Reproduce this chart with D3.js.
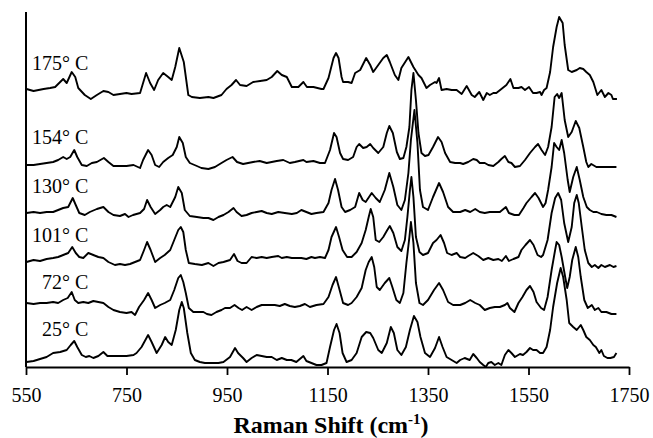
<!DOCTYPE html>
<html>
<head>
<meta charset="utf-8">
<script src="https://cdn.jsdelivr.net/npm/d3@7"></script>
<style>
  html, body { margin: 0; padding: 0; background: #fff; }
  svg { display: block; }
  text { font-family: "Liberation Serif", "Times New Roman", Tinos, "DejaVu Serif", serif; }
</style>
</head>
<body>
<svg id="viz"></svg>
<script>
const width = 653, height = 438;
const svg = d3.select("#viz").attr("width", width).attr("height", height);
const serif = "Liberation Serif, Times New Roman, DejaVu Serif, serif";

// x tick labels
const xTicks = [550, 750, 950, 1150, 1350, 1550, 1750];

// spectrum labels, top to bottom
const labels = ["175° C", "154° C", "130° C", "101° C", "72° C", "25° C"];
// where each label sits (intensity units, same scale as the traces)
const labelLevel = [297, 223, 174, 125, 78, 31];

// spectra: [Raman shift (cm-1), stacked intensity (a.u.)]
const s175 = [[551,278],[565,276],[585,278],[598,279],[608,280],[618,285],[624,288],[631,284],[641,295],[648,290],[654,279],[667,272],[679,268],[691,272],[704,276],[714,275],[724,272],[737,273],[750,274],[760,273],[777,274],[789,294],[797,284],[805,277],[813,287],[823,294],[833,290],[840,287],[847,300],[855,319],[864,305],[873,272],[880,270],[896,269],[913,270],[923,269],[939,272],[949,278],[959,282],[968,287],[976,282],[989,281],[1002,285],[1016,286],[1029,287],[1039,290],[1050,296],[1059,292],[1069,290],[1079,280],[1092,280],[1102,285],[1109,280],[1122,280],[1138,278],[1142,278],[1152,289],[1162,309],[1167,314],[1172,309],[1178,290],[1181,285],[1191,285],[1198,284],[1205,294],[1215,297],[1227,309],[1235,302],[1241,295],[1251,302],[1261,309],[1268,312],[1274,305],[1284,292],[1291,287],[1297,299],[1311,310],[1321,300],[1331,292],[1337,289],[1347,279],[1354,282],[1364,285],[1367,284],[1372,289],[1377,277],[1387,278],[1397,277],[1407,277],[1417,273],[1427,281],[1437,272],[1443,270],[1452,275],[1460,267],[1467,274],[1473,272],[1480,274],[1486,274],[1496,278],[1506,282],[1514,288],[1520,279],[1530,279],[1536,280],[1543,277],[1551,280],[1559,274],[1566,274],[1573,275],[1576,272],[1581,277],[1586,279],[1593,295],[1599,320],[1606,340],[1611,350],[1618,344],[1622,322],[1629,297],[1636,295],[1646,297],[1652,299],[1659,298],[1665,295],[1672,292],[1679,285],[1687,272],[1695,277],[1702,270],[1709,274],[1715,272],[1718,268],[1726,268]];

const s154 = [[551,202],[565,202],[578,203],[591,204],[604,205],[614,207],[624,210],[631,208],[638,210],[646,217],[652,210],[661,202],[671,201],[681,204],[691,205],[705,209],[714,205],[724,201],[737,201],[750,201],[764,202],[777,199],[783,207],[793,217],[800,212],[807,202],[815,200],[823,205],[833,209],[842,212],[850,220],[855,230],[862,224],[868,210],[876,204],[890,201],[899,199],[913,198],[926,200],[939,204],[949,207],[961,210],[970,205],[982,203],[992,204],[1002,205],[1015,206],[1029,204],[1039,205],[1049,206],[1062,207],[1075,204],[1085,205],[1102,207],[1108,205],[1122,206],[1135,204],[1145,204],[1155,217],[1163,234],[1168,230],[1175,214],[1181,208],[1191,207],[1201,210],[1208,220],[1213,223],[1221,219],[1228,220],[1235,223],[1241,219],[1251,214],[1261,220],[1268,234],[1273,241],[1280,234],[1288,215],[1294,208],[1301,209],[1307,220],[1313,240],[1317,277],[1321,294],[1326,267],[1331,234],[1337,214],[1344,211],[1351,212],[1360,220],[1370,230],[1377,225],[1384,214],[1394,205],[1404,204],[1414,204],[1420,203],[1430,205],[1440,208],[1447,207],[1453,204],[1463,204],[1470,202],[1480,201],[1490,205],[1496,208],[1503,211],[1510,205],[1516,204],[1523,200],[1533,201],[1543,207],[1553,214],[1563,220],[1569,223],[1576,217],[1583,212],[1589,220],[1596,240],[1602,270],[1607,273],[1611,269],[1616,274],[1622,247],[1629,230],[1636,235],[1644,246],[1651,239],[1659,220],[1665,205],[1669,200],[1675,203],[1685,200],[1695,200],[1705,200],[1715,200],[1725,200]];

const s130 = [[551,154],[565,155],[578,154],[591,155],[604,155],[614,157],[624,159],[634,160],[643,169],[649,162],[656,154],[667,152],[677,155],[691,158],[704,160],[714,155],[724,152],[737,151],[747,153],[754,150],[763,152],[777,154],[785,158],[791,167],[798,160],[807,153],[817,157],[823,160],[830,162],[837,160],[847,170],[853,180],[860,174],[866,157],[876,151],[890,150],[903,149],[913,149],[923,147],[933,150],[943,152],[953,155],[963,159],[969,155],[979,151],[989,152],[999,154],[1009,155],[1019,156],[1029,154],[1039,153],[1052,155],[1065,154],[1079,153],[1089,154],[1098,157],[1108,155],[1118,153],[1128,154],[1142,155],[1152,164],[1158,177],[1165,188],[1171,177],[1178,160],[1185,155],[1195,157],[1205,160],[1213,174],[1220,167],[1226,165],[1238,174],[1246,169],[1254,165],[1264,177],[1273,194],[1281,180],[1289,162],[1297,157],[1304,167],[1311,194],[1316,227],[1323,257],[1329,224],[1334,177],[1340,160],[1350,157],[1360,170],[1372,184],[1380,175],[1390,160],[1400,155],[1414,155],[1424,157],[1434,155],[1444,158],[1453,155],[1463,154],[1473,155],[1483,155],[1493,155],[1505,160],[1511,154],[1522,152],[1531,152],[1540,159],[1546,164],[1556,170],[1563,174],[1570,169],[1575,164],[1579,160],[1584,164],[1589,177],[1596,200],[1601,224],[1606,220],[1611,217],[1616,227],[1621,214],[1628,187],[1632,175],[1639,190],[1646,200],[1652,187],[1659,170],[1666,160],[1672,157],[1679,155],[1686,155],[1695,153],[1705,152],[1715,152],[1725,150]];

const s101 = [[551,105],[565,107],[578,106],[591,108],[604,109],[614,110],[624,112],[634,114],[642,120],[649,114],[656,110],[664,109],[674,114],[684,112],[694,110],[704,109],[714,105],[727,102],[737,103],[747,102],[757,103],[767,105],[777,107],[785,117],[791,125],[798,117],[807,105],[817,109],[826,112],[837,117],[845,127],[853,137],[858,140],[863,135],[868,117],[874,104],[886,103],[900,102],[913,104],[923,101],[933,104],[943,105],[956,107],[964,113],[971,106],[979,104],[989,104],[999,110],[1009,109],[1019,110],[1029,109],[1039,110],[1052,111],[1059,109],[1069,110],[1079,109],[1089,109],[1098,109],[1108,108],[1118,110],[1125,109],[1135,110],[1145,109],[1152,117],[1158,130],[1167,140],[1173,130],[1180,117],[1189,110],[1198,110],[1208,115],[1218,124],[1226,137],[1232,150],[1236,158],[1241,150],[1246,127],[1253,125],[1261,130],[1269,137],[1274,141],[1281,134],[1289,120],[1297,116],[1304,127],[1309,150],[1314,177],[1317,190],[1321,170],[1326,130],[1333,115],[1340,112],[1350,114],[1360,124],[1367,127],[1375,132],[1382,124],[1388,114],[1397,112],[1407,114],[1414,110],[1424,109],[1430,111],[1440,114],[1450,111],[1460,107],[1470,109],[1480,107],[1490,108],[1497,106],[1505,111],[1511,106],[1520,108],[1530,110],[1536,117],[1544,122],[1553,127],[1560,122],[1568,112],[1575,110],[1579,112],[1588,127],[1596,154],[1603,169],[1609,174],[1615,167],[1621,144],[1629,125],[1636,140],[1641,164],[1646,172],[1650,164],[1656,140],[1662,117],[1669,104],[1676,100],[1682,102],[1689,99],[1695,102],[1702,100],[1712,102],[1719,100],[1725,101]];

const s72 = [[551,64],[565,63],[578,64],[591,64],[604,65],[614,64],[624,67],[633,69],[641,75],[647,67],[654,64],[664,65],[674,64],[684,66],[694,65],[704,64],[714,60],[724,57],[737,55],[750,54],[760,55],[767,52],[775,60],[785,67],[793,74],[800,67],[807,59],[817,62],[826,64],[837,67],[845,77],[853,89],[858,92],[863,85],[868,74],[874,59],[883,55],[893,55],[903,55],[910,53],[919,52],[929,55],[939,57],[946,59],[956,59],[965,62],[973,59],[980,57],[989,60],[999,57],[1009,60],[1019,62],[1032,62],[1045,62],[1055,61],[1065,63],[1075,61],[1085,60],[1095,61],[1105,63],[1115,60],[1128,62],[1142,63],[1152,70],[1160,82],[1167,90],[1173,79],[1181,64],[1191,62],[1198,64],[1208,70],[1218,79],[1226,97],[1232,105],[1238,110],[1243,100],[1248,80],[1254,77],[1264,84],[1273,89],[1279,80],[1287,67],[1294,64],[1301,74],[1307,104],[1313,130],[1316,145],[1321,124],[1326,84],[1333,64],[1340,62],[1350,67],[1362,77],[1372,84],[1380,77],[1390,65],[1400,62],[1414,62],[1424,64],[1434,67],[1444,64],[1453,62],[1463,57],[1473,59],[1483,60],[1493,60],[1503,62],[1508,64],[1513,59],[1522,55],[1530,64],[1538,70],[1546,77],[1553,81],[1560,75],[1566,65],[1575,59],[1581,57],[1588,70],[1596,97],[1603,117],[1606,125],[1611,122],[1616,110],[1623,90],[1627,79],[1632,90],[1637,107],[1644,120],[1649,110],[1654,90],[1661,67],[1668,59],[1676,62],[1682,57],[1689,59],[1695,55],[1705,55],[1715,53],[1725,53]];

const s25 = [[551,5],[565,6],[578,8],[591,10],[604,14],[618,15],[631,17],[639,22],[646,26],[652,20],[661,12],[669,10],[676,11],[684,9],[694,11],[704,15],[712,11],[724,11],[737,11],[750,11],[764,12],[770,14],[780,20],[793,32],[800,25],[810,14],[820,22],[827,30],[833,25],[840,22],[848,37],[855,57],[860,65],[864,59],[871,34],[878,14],[886,7],[896,5],[906,4],[919,4],[933,4],[943,5],[956,10],[966,19],[972,14],[982,9],[989,5],[999,9],[1009,12],[1019,11],[1029,10],[1039,10],[1049,7],[1059,9],[1069,7],[1078,7],[1088,5],[1102,11],[1108,6],[1118,4],[1128,2],[1138,2],[1148,4],[1155,20],[1163,37],[1168,43],[1174,34],[1180,14],[1188,5],[1198,7],[1208,14],[1218,30],[1227,35],[1235,34],[1241,29],[1251,17],[1258,14],[1268,24],[1276,40],[1282,34],[1289,17],[1297,12],[1306,20],[1314,37],[1322,51],[1329,45],[1335,30],[1344,14],[1354,10],[1364,19],[1372,30],[1379,20],[1387,10],[1397,7],[1407,4],[1414,7],[1423,9],[1433,7],[1440,13],[1447,9],[1453,5],[1460,2],[1465,0],[1470,4],[1476,5],[1483,2],[1490,4],[1496,2],[1503,12],[1510,17],[1516,14],[1523,10],[1533,13],[1539,12],[1546,15],[1553,19],[1559,17],[1566,17],[1573,14],[1579,14],[1586,20],[1593,37],[1599,60],[1607,84],[1614,99],[1619,90],[1626,67],[1631,44],[1639,40],[1646,37],[1654,42],[1659,37],[1665,30],[1672,27],[1679,22],[1684,20],[1691,14],[1695,17],[1700,11],[1707,9],[1713,9],[1720,10],[1725,14]];

const spectra = [s175, s154, s130, s101, s72, s25];

const x = d3.scaleLinear().domain([550, 1750]).range([26, 629]);
const y = d3.scaleLinear().domain([0, 355]).range([367, 12]);

const line = d3.line()
  .x(d => x(d[0]))
  .y(d => y(d[1]));

// traces
svg.append("g")
  .selectAll("path")
  .data(spectra)
  .join("path")
  .attr("d", line)
  .attr("fill", "none")
  .attr("stroke", "#000")
  .attr("stroke-width", 1.9)
  .attr("stroke-linejoin", "round");

// y axis (plain line, no ticks)
svg.append("line")
  .attr("x1", x(550)).attr("x2", x(550))
  .attr("y1", y.range()[1]).attr("y2", y.range()[0])
  .attr("stroke", "#000")
  .attr("stroke-width", 2);

// x axis
const xAxis = svg.append("g")
  .attr("transform", `translate(0,${y(0)})`)
  .call(d3.axisBottom(x).tickValues(xTicks).tickFormat(d3.format("d"))
    .tickSize(8).tickSizeOuter(0).tickPadding(13))
  .attr("font-family", serif)
  .attr("font-size", 20);

xAxis.select(".domain").attr("stroke", "#000").attr("stroke-width", 2);
xAxis.selectAll(".tick line").attr("stroke", "#000").attr("stroke-width", 1.8);
xAxis.selectAll(".tick text").attr("fill", "#000");

// axis title
const title = svg.append("text")
  .attr("x", 331)
  .attr("y", 433)
  .attr("text-anchor", "middle")
  .attr("font-family", serif)
  .attr("font-size", 24)
  .attr("font-weight", "bold")
  .attr("fill", "#000");
title.append("tspan").text("Raman Shift (cm");
title.append("tspan").attr("dy", -9).attr("font-size", 15).text("-1");
title.append("tspan").attr("dy", 9).text(")");

// spectrum labels
svg.append("g")
  .attr("font-family", serif)
  .attr("font-size", 20)
  .selectAll("text")
  .data(labels)
  .join("text")
  .attr("x", x(674))
  .attr("y", (d, i) => y(labelLevel[i]))
  .attr("text-anchor", "end")
  .attr("fill", "#000")
  .text(d => d);
</script>
</body>
</html>
